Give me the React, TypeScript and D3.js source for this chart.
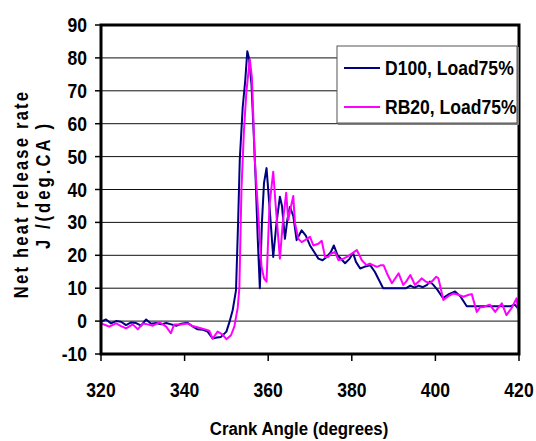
import React from "react";
import * as d3 from "d3";

// crank angle (deg) and net heat release rate (J/deg.CA)
const d100Angle = [320, 321.2, 322.4, 323.6, 324.8, 326, 327.2, 328.4, 329.6, 330.8, 332, 333.2, 334.4, 335.6, 336.8, 338, 339.2, 340.7, 341.9, 343.1, 344.3, 345.5, 346.7, 347.7, 348.7, 350, 350.8, 351.5, 352.3, 352.8, 353.2, 353.9, 354.5, 355, 355.4, 356, 356.5, 357, 357.5, 358, 358.5, 359, 359.6, 360.3, 361.2, 362, 362.8, 363.3, 364, 364.6, 365.2, 366, 366.8, 368, 369, 370, 371, 372, 373, 374, 375, 375.7, 376.6, 378.4, 379.5, 380.3, 381, 382, 383, 384.4, 385.5, 386.5, 387.5, 389, 391, 393, 394, 395, 396, 397, 398, 398.7, 399.5, 400.5, 401.8, 403, 404.7, 406, 407.5, 410, 412, 414, 416, 418, 419, 420];
const d100Value = [-0.2, 0.5, -0.7, 0, -0.2, -1.2, -0.4, -0.6, -1.4, 0.5, -0.8, -0.6, -1.0, -0.6, -1.0, -1.4, -0.8, -0.5, -1.6, -2.5, -2.6, -3.2, -5.3, -5.0, -4.8, -3.2, 0, 3.3, 9.4, 30, 49, 65, 73, 82, 80, 72, 58, 43, 25, 10, 30, 42, 46.5, 35, 19.5, 30, 37.8, 35, 25, 31, 34.7, 32, 24.6, 27.6, 26, 23, 21, 19, 18.5, 19.5, 21, 23, 20, 17.6, 19, 20.7, 18, 16, 16.5, 17, 15, 12.5, 10, 10, 10, 10, 10.8, 10.2, 10.8, 10.3, 11, 12, 11, 9.5, 7, 8, 9, 7.5, 4.5, 4.5, 4.5, 4.5, 4.5, 4.5, 5, 3.5];

const rb20Angle = [320, 321, 322, 323.6, 324.8, 326, 327.6, 328.8, 330, 331.2, 332.4, 334, 335.6, 336.7, 337.5, 339, 340.7, 341.9, 343.9, 345.9, 346.7, 347.9, 349, 350, 351.1, 351.9, 352.7, 353.1, 353.6, 354.2, 354.8, 355.6, 356.1, 356.8, 357.5, 358.4, 359, 359.6, 360.3, 361.2, 361.8, 362.8, 363.5, 364.3, 364.8, 365.3, 366, 366.4, 367.2, 368, 368.8, 370, 370.8, 372, 372.8, 373.6, 374.4, 375, 376, 376.8, 378, 378.8, 380, 381.2, 382.4, 383.5, 384.3, 385.1, 386, 387, 387.6, 388.6, 389.6, 391.2, 392.3, 393, 394, 395.1, 396, 396.7, 397.7, 398.7, 399.5, 400.2, 400.7, 401.1, 401.9, 403, 404.3, 405.5, 406.7, 408, 408.7, 409.9, 410.7, 411.5, 413, 414.3, 415, 415.9, 417, 418.2, 419.4, 420];
const rb20Value = [-0.7, -1.2, -1.7, -0.7, -1.5, -2.2, -1.0, -2.5, -0.7, -1.0, -1.4, -0.4, -1.7, -3.7, -1.0, -1.0, -0.7, -1.5, -2.2, -2.9, -5.3, -3.2, -4, -5.5, -4.3, -1.7, 4, 10, 40, 58, 70, 79.6, 74, 49, 35, 16.5, 13, 12, 35, 45.4, 35, 19, 30, 39, 30.7, 34, 38, 29.8, 25, 24, 24.6, 25.6, 23, 23.5, 24.4, 19.5, 19.5, 20.5, 21, 18.5, 19, 19.5, 20.5, 21.6, 18.5, 17, 17.5, 17, 16.5, 17, 17, 14, 11.5, 14.5, 11, 12, 14, 11, 12, 13, 12, 11.5, 12.5, 13.5, 13, 11, 6.4, 7.5, 8.4, 8, 7.4, 8, 8.2, 2.8, 4.2, 4.3, 5, 2.8, 4, 5.4, 1.8, 3.9, 6.9, 1.8];

const xTicks = [320, 340, 360, 380, 400, 420];
const yTicks = [-10, 0, 10, 20, 30, 40, 50, 60, 70, 80, 90];

const seriesNames = ["D100, Load75%", "RB20, Load75%"];
const seriesColors = ["#000080", "#ff00ff"];

const W = 536, H = 441;
const left = 101, right = 519, top = 25, bottom = 354;
const font = "'Liberation Sans', Arial, sans-serif";

// bold text squeezed a little along its run, like the narrow chart font
function T({ x, y, size, sx = 0.9, anchor = "start", rotate = 0, spacing = 0, children }: any) {
  return (
    <text
      transform={`translate(${x},${y}) rotate(${rotate}) scale(${sx},1)`}
      textAnchor={anchor}
      fontFamily={font}
      fontWeight="bold"
      fontSize={size}
      letterSpacing={spacing}
    >
      {children}
    </text>
  );
}

export default function App() {
  const x = d3.scaleLinear().domain([320, 420]).range([left, right]);
  const y = d3.scaleLinear().domain([-10, 90]).range([bottom, top]);

  const line = d3.line<[number, number]>()
    .x(d => x(d[0]))
    .y(d => y(d[1]));

  const series = [
    d3.zip(d100Angle, d100Value) as [number, number][],
    d3.zip(rb20Angle, rb20Value) as [number, number][],
  ];

  return (
    <svg width={W} height={H} style={{ position: "absolute", left: 0, top: 0, background: "#fff" }}>
      {/* grid */}
      {yTicks.filter(t => t > -10 && t < 90).map(t => (
        <line key={t} x1={left} x2={right} y1={y(t)} y2={y(t)} stroke="#111" strokeWidth={1} />
      ))}

      {/* series */}
      {series.map((s, i) => (
        <path key={i} d={line(s) || ""} fill="none" stroke={seriesColors[i]} strokeWidth={2} strokeLinejoin="round" />
      ))}

      {/* frame */}
      <rect x={left} y={top} width={right - left} height={bottom - top} fill="none" stroke="#000" strokeWidth={3} />

      {/* y axis */}
      {yTicks.map(t => (
        <g key={t}>
          <line x1={left - 6} x2={left} y1={y(t)} y2={y(t)} stroke="#000" strokeWidth={1.5} />
          <T x={87} y={y(t) + 7} size={19.5} anchor="end">{t}</T>
        </g>
      ))}

      {/* x axis */}
      {xTicks.map(t => (
        <g key={t}>
          <line x1={x(t)} x2={x(t)} y1={bottom} y2={bottom + 7} stroke="#000" strokeWidth={1.5} />
          <T x={x(t)} y={397} size={19.5} anchor="middle">{t}</T>
        </g>
      ))}

      <T x={299} y={435} size={17.5} sx={0.96} anchor="middle">Crank Angle (degrees)</T>

      <T x={28} y={194} size={19.5} sx={0.85} rotate={-90} anchor="middle" spacing={2.6}>Net heat release rate</T>
      <T x={50} y={185} size={19.5} sx={0.85} rotate={-90} anchor="middle" spacing={3.6}>J /(deg.CA )</T>

      {/* legend */}
      <rect x={338} y={47} width={181} height={78} fill="#808080" />
      <rect x={337} y={46} width={180} height={77} fill="#fff" stroke="#555" strokeWidth={1} />
      {seriesNames.map((n, i) => (
        <g key={n}>
          <line x1={344} x2={380} y1={68 + i * 39} y2={68 + i * 39} stroke={seriesColors[i]} strokeWidth={2} />
          <T x={385} y={75 + i * 39} size={19.5} sx={0.9}>{n}</T>
        </g>
      ))}
    </svg>
  );
}
